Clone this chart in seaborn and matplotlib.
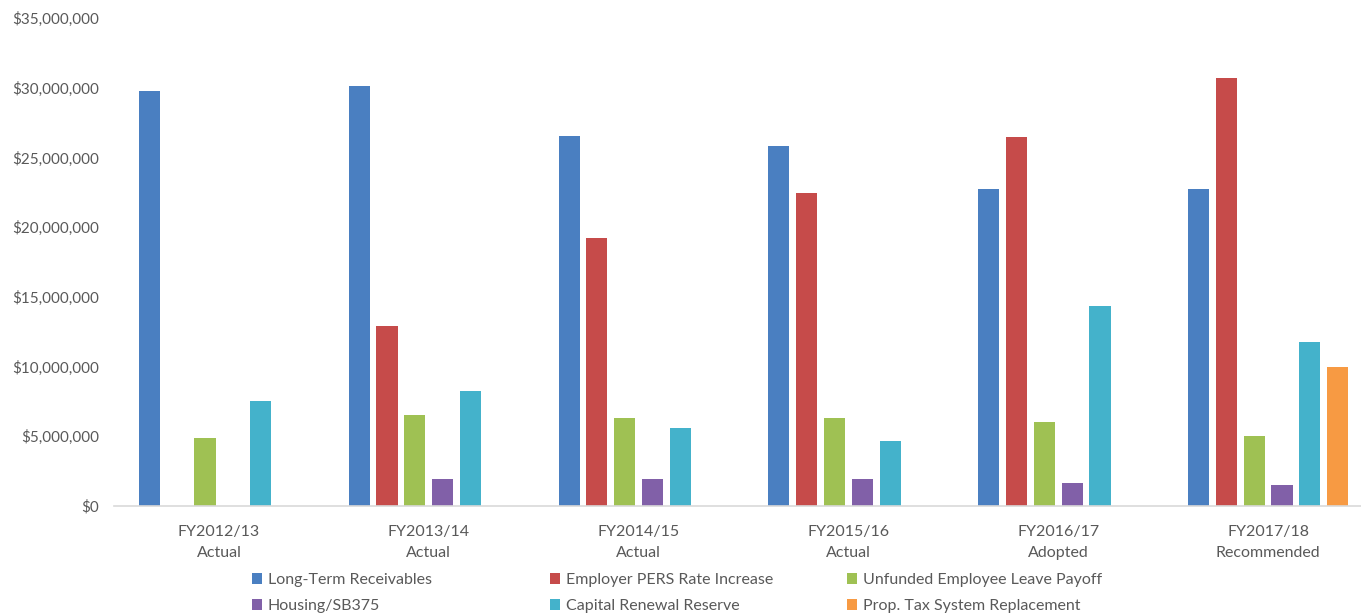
import matplotlib
matplotlib.use("Agg")
import matplotlib.pyplot as plt
from matplotlib.patches import Patch
from matplotlib.ticker import FuncFormatter, MultipleLocator
import seaborn as sns
import pandas as pd

categories = ["FY2012/13\nActual", "FY2013/14\nActual", "FY2014/15\nActual",
              "FY2015/16\nActual", "FY2016/17\nAdopted", "FY2017/18\nRecommended"]
series_names = ["Long-Term Receivables", "Employer PERS Rate Increase",
                "Unfunded Employee Leave Payoff", "Housing/SB375",
                "Capital Renewal Reserve", "Prop. Tax System Replacement"]
long_term_receivables = [29_770_000, 30_130_000, 26_540_000, 25_800_000, 22_740_000, 22_740_000]
employer_pers = [0, 12_910_000, 19_230_000, 22_450_000, 26_470_000, 30_700_000]
unfunded_leave = [4_880_000, 6_530_000, 6_310_000, 6_310_000, 6_030_000, 5_020_000]
housing_sb375 = [0, 1_940_000, 1_940_000, 1_940_000, 1_650_000, 1_500_000]
capital_renewal = [7_530_000, 8_250_000, 5_600_000, 4_660_000, 14_350_000, 11_760_000]
prop_tax_system = [0, 0, 0, 0, 0, 9_970_000]
colors = ["#4A7FC1", "#C64B4A", "#9FC153", "#8160A8", "#44B2CB", "#F79A43"]

all_series = [long_term_receivables, employer_pers, unfunded_leave,
              housing_sb375, capital_renewal, prop_tax_system]
rows = []
for name, vals in zip(series_names, all_series):
    for cat, v in zip(categories, vals):
        rows.append({"Year": cat, "Series": name, "Value": v})
df = pd.DataFrame(rows)

sns.set_theme(style="white")
plt.rcParams["font.family"] = ["Lato", "DejaVu Sans"]
text_color = "#595959"

fig = plt.figure(figsize=(13.61, 6.14), dpi=100)
ax = fig.add_axes([114 / 1361, 108 / 614, (1373 - 114) / 1361, 488 / 614])

sns.barplot(data=df, x="Year", y="Value", hue="Series", order=categories,
            hue_order=series_names, palette=colors, saturation=1, width=0.795, gap=0.24,
            linewidth=0, legend=False, ax=ax)

ax.set_ylim(0, 35_000_000)
ax.set_xlim(-0.5, 5.5)
ax.yaxis.set_major_locator(MultipleLocator(5_000_000))
ax.yaxis.set_major_formatter(FuncFormatter(lambda v, p: f"${v:,.0f}"))
ax.set_xlabel("")
ax.set_ylabel("")
for s in ["top", "right", "left"]:
    ax.spines[s].set_visible(False)
ax.spines["bottom"].set_color("#D9D9D9")
ax.spines["bottom"].set_linewidth(1.2)
ax.tick_params(axis="y", length=0, pad=11, labelsize=11, labelcolor=text_color)
ax.tick_params(axis="x", length=0, pad=14, labelsize=11.5, labelcolor=text_color)
for lab in ax.get_xticklabels():
    lab.set_linespacing(1.6)

handles = [Patch(facecolor=c, edgecolor="none") for c in colors]
col_x = [252, 550, 847]
for i, x in enumerate(col_x):
    idx = [i, i + 3]
    fig.legend([handles[j] for j in idx], [series_names[j] for j in idx],
               loc="center left", bbox_to_anchor=(x / 1361, (614 - 593) / 614),
               frameon=False, fontsize=11.5, handlelength=0.65, handleheight=0.65,
               handletextpad=0.35, labelspacing=0.75, borderpad=0, borderaxespad=0,
               labelcolor=text_color)

fig.savefig("out.png", dpi=100)
